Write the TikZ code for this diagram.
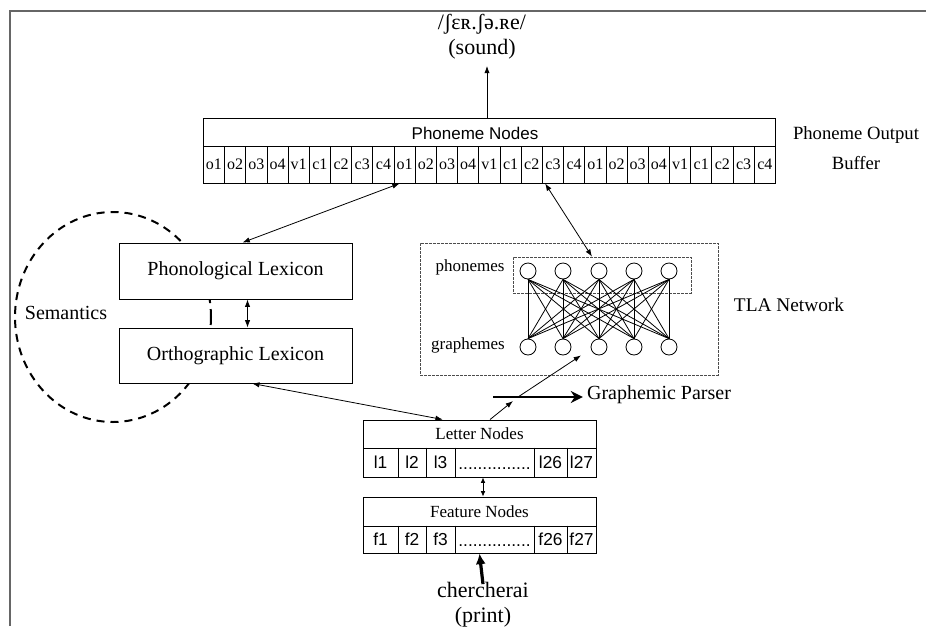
\documentclass[tikz,border=0pt]{standalone}
\usepackage{fontspec}
\setmainfont{Liberation Serif}
\setsansfont{Liberation Sans}
\usetikzlibrary{arrows.meta,calc}
\def\px{0.75pt}
\tikzset{
  lbl/.style={inner sep=0pt, font=\fontsize{15pt}{17pt}\selectfont},
  sml/.style={inner sep=0pt, font=\fontsize{12.75pt}{14pt}\selectfont},
  big/.style={inner sep=0pt, font=\fontsize{16.5pt}{19pt}\selectfont},
  cell/.style={inner sep=0pt, font=\fontsize{12pt}{13pt}\selectfont},
  sfcell/.style={inner sep=0pt, font=\sffamily\fontsize{13pt}{14pt}\selectfont},
  box/.style={draw, line width=0.7pt, fill=white, inner sep=0pt},
  thin/.style={line width=0.6pt, {Latex[length=5.5pt,width=4pt]}-{Latex[length=5.5pt,width=4pt]}},
  one/.style={line width=0.6pt, -{Latex[length=5.5pt,width=4pt]}},
  heavy/.style={line width=2.2pt, -{Stealth[length=9pt,width=9pt]}},
  tla/.style={draw=black!70, line width=0.6pt, dash pattern=on 2pt off 1pt},
  unit/.style={circle, draw, line width=0.6pt, fill=white, minimum size=16*\px, inner sep=0pt},
  sem/.style={line width=1.5pt, dash pattern=on 6pt off 4.5pt},
}
\begin{document}
\begin{tikzpicture}[x=0.75pt,y=-0.75pt]
\useasboundingbox (0,0) rectangle (926,626);
% frame
\draw[black!60, line width=1.5pt] (10,626) -- (10,11) -- (926,11);

% semantics loop, partly covered by the lexicon boxes
\draw[sem] (113,317) ellipse [x radius=98, y radius=105];
\node[lbl] (semantics) at (66,313) {Semantics};

% lexicons
\node[box, lbl, minimum width=233*\px, minimum height=56*\px] (phon) at (235.5,271) {Phonological Lexicon};
\node[box, lbl, minimum width=233*\px, minimum height=55*\px] (orth) at (235.5,355.5) {Orthographic Lexicon};
\draw[thin] ([xshift=12*\px]phon.south) -- ([xshift=12*\px]orth.north);

% phoneme output buffer
\node[box, minimum width=572*\px, minimum height=28*\px] (bufhead) at (489,132) {};
\node[inner sep=0pt, font=\sffamily\fontsize{12.75pt}{14pt}\selectfont] (bufname) at (475,133) {Phoneme Nodes};
\node[box, minimum width=572*\px, minimum height=37*\px] (bufcells) at (489,164.5) {};
\foreach \lab [count=\i from 0] in {o1,o2,o3,o4,v1,c1,c2,c3,c4,o1,o2,o3,o4,v1,c1,c2,c3,c4,o1,o2,o3,o4,v1,c1,c2,c3,c4}{
  \node[draw, line width=0.6pt, cell, minimum width=572/27*\px, minimum height=37*\px, anchor=west] (pc\i) at (203+\i*572/27,164.5) {\lab};
}
\node[lbl, align=center, font=\fontsize{14pt}{22.5pt}\selectfont] (bufferlabel) at (856,148) {Phoneme Output\\Buffer};

% sound output
\node[big, align=center, font=\fontsize{16.5pt}{19pt}\selectfont] (sound) at (482,37) {/ʃɛʀ.ʃə.ʀe/\\(sound)};
\draw[one] ([xshift=-2*\px]bufhead.north) -- ([xshift=-2*\px,yshift=-6*\px]bufhead.north |- sound.south);

% TLA network
\node[tla, minimum width=298*\px, minimum height=132*\px, inner sep=0pt] (tlabox) at (569,309) {};
\node[tla, minimum width=178*\px, minimum height=36*\px, inner sep=0pt] (phonrow) at (602,275) {};
\foreach \x [count=\i] in {528,563,599,634,669}{
  \node[unit] (p\i) at (\x,271) {};
  \node[unit] (g\i) at (\x,347) {};
}
\foreach \i in {1,...,5}{
  \foreach \j in {1,...,5}{
    \draw[line width=0.6pt] (p\i.south) -- (g\j.north);
  }
}
\node[sml] (phonemes) at (470,267) {phonemes};
\node[sml] (graphemes) at (468,345) {graphemes};
\node[lbl, font=\fontsize{14.5pt}{16pt}\selectfont] (tlaname) at (789,305) {TLA Network};

% letter nodes
\node[box, sml, minimum width=233*\px, minimum height=28*\px] (letter) at (479.5,434) {Letter Nodes};
\node[box, minimum width=233*\px, minimum height=29*\px] (lcells) at (479.5,462.5) {};
% feature nodes
\node[box, sml, minimum width=233*\px, minimum height=29*\px] (feature) at (479.5,511.5) {Feature Nodes};
\node[box, minimum width=233*\px, minimum height=27*\px] (fcells) at (479.5,539.5) {};
\foreach \x in {398,426,455,534,567}{
  \draw[line width=0.6pt] (lcells.north -| \x,0) -- (lcells.south -| \x,0);
  \draw[line width=0.6pt] (fcells.north -| \x,0) -- (fcells.south -| \x,0);
}
\foreach \x/\a/\b in {380.5/l1/f1, 412/l2/f2, 440.5/l3/f3, 550.5/l26/f26, 581.5/l27/f27}{
  \node[sfcell] at (\x,462.5) {\a};
  \node[sfcell] at (\x,539.5) {\b};
}
\node[sfcell, anchor=base] (ldots) at (494.5,469) {...............};
\node[sfcell, anchor=base] (fdots) at (494.5,546) {...............};

% print input
\node[big, align=center, font=\fontsize{16.5pt}{19pt}\selectfont] (print) at (483,605) {chercherai\\(print)};
\draw[line width=2.4pt, -{Latex[length=8pt,width=7.5pt]}] ([yshift=-2*\px]print.north) -- (fcells.south);
\draw[line width=0.6pt, {Latex[length=4pt,width=3.5pt]}-{Latex[length=4pt,width=3.5pt]}] (lcells.south) ++(3.5,0) coordinate (lf) (lf) -- (lf |- feature.north);

% graphemic parser
\node[lbl] (parser) at (659,395) {Graphemic Parser};
\coordinate (ptail) at (493,397);
\draw[heavy] (ptail) -- ([xshift=-4*\px]parser.west |- ptail);
\coordinate (pjoin) at (518,397);
\draw[one] ($(letter.north west)!0.545!(letter.north east)$) -- ($(pjoin)+(-5,4)$);
\draw[one] (pjoin) -- ($(g2.south)!0.5!(g3.south)$);

% lexicon links
\draw[thin] ($(bufcells.south west)!0.344!(bufcells.south east)$) -- ($(phon.north west)!0.53!(phon.north east)$);
\draw[thin] ($(bufcells.south west)!0.598!(bufcells.south east)$) -- ($(phonrow.north west)!0.444!(phonrow.north east)$);
\draw[thin] ($(letter.north west)!0.343!(letter.north east)$) -- ($(orth.south west)!0.571!(orth.south east)$);
\end{tikzpicture}
\end{document}
